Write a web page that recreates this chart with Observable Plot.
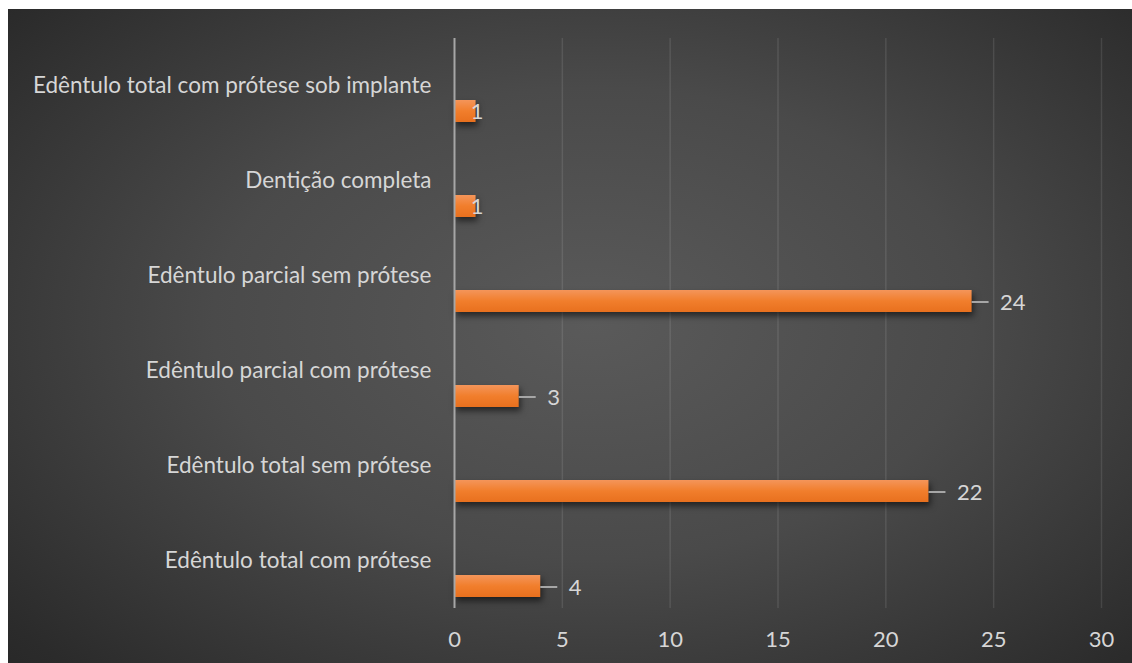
<!DOCTYPE html>
<html>
<head>
<meta charset="utf-8">
<script src="https://cdn.jsdelivr.net/npm/d3@7"></script>
<script src="https://cdn.jsdelivr.net/npm/@observablehq/plot@0.6"></script>
<style>
  html, body { margin: 0; padding: 0; background: #ffffff; }
  #chart { position: absolute; left: 8px; top: 9px; width: 1124px; height: 654px;
    background: radial-gradient(ellipse 75% 80% at 52% 48%, #5a5a5a 0%, #4a4a4a 45%, #2b2b2b 90%, #262626 100%); }
  #chart svg { display: block; }
</style>
</head>
<body>
<div id="chart"></div>
<script>
const categories = [
  "Edêntulo total com prótese sob implante",
  "Dentição completa",
  "Edêntulo parcial sem prótese",
  "Edêntulo parcial com prótese",
  "Edêntulo total sem prótese",
  "Edêntulo total com prótese"
];
const values = [1, 1, 24, 3, 22, 4];
const xTicks = [0, 5, 10, 15, 20, 25, 30];

const data = categories.map((c, i) => ({cat: c, value: values[i]}));
const big = data.filter(d => d.value > 1);
const small = data.filter(d => d.value <= 1);

const font = "Lato, 'Open Sans', sans-serif";
const textColor = "#d6d6d6";

const plot = Plot.plot({
  width: 1124,
  height: 654,
  marginLeft: 446,
  marginRight: 31,
  marginTop: 29,
  marginBottom: 55,
  style: {background: "transparent", fontFamily: font, fontSize: "22px", color: textColor},
  x: {domain: [0, 30], ticks: xTicks, tickSize: 0, tickPadding: 23, label: null},
  y: {type: "band", domain: categories, padding: 0, tickSize: 0, tickPadding: 23, label: null},
  marks: [
    Plot.ruleX(xTicks.filter(t => t > 0), {stroke: "#ffffff", strokeOpacity: 0.1, strokeWidth: 1.5}),
    Plot.barX(data, {y: "cat", x: "value", insetTop: 62, insetBottom: 11, fill: "url(#barGrad)", className: "bars"}),
    Plot.ruleX([0], {stroke: "#a6a6a6", strokeWidth: 2}),
    Plot.ruleY(big, {y: "cat", x1: "value", x2: "value", insetRight: -17, dy: 26, stroke: "#a6a6a6", strokeWidth: 2}),
    Plot.text(big, {y: "cat", x: "value", text: d => String(d.value), dx: 28, dy: 27, textAnchor: "start", fill: textColor, fontSize: 22}),
    Plot.text(small, {y: "cat", x: "value", text: d => String(d.value), dx: 1, dy: 26, textAnchor: "middle", fill: textColor, fontSize: 22})
  ]
});

const ns = "http://www.w3.org/2000/svg";
const defs = document.createElementNS(ns, "defs");
defs.innerHTML = `
  <linearGradient id="barGrad" x1="0" y1="0" x2="0" y2="1">
    <stop offset="0" stop-color="#f4955a"/>
    <stop offset="0.5" stop-color="#f17e2c"/>
    <stop offset="1" stop-color="#e8701e"/>
  </linearGradient>`;
plot.insertBefore(defs, plot.firstChild);
plot.querySelectorAll(".bars").forEach(g => g.style.filter = "drop-shadow(2px 4px 3px rgba(0,0,0,0.55))");
plot.querySelectorAll("[aria-label='x-axis tick label'], [aria-label='y-axis tick label']").forEach(g => g.setAttribute("fill", textColor));
plot.querySelectorAll("[aria-label='y-axis tick label']").forEach(g => g.setAttribute("font-size", "22.5"));
document.getElementById("chart").appendChild(plot);
</script>
</body>
</html>
